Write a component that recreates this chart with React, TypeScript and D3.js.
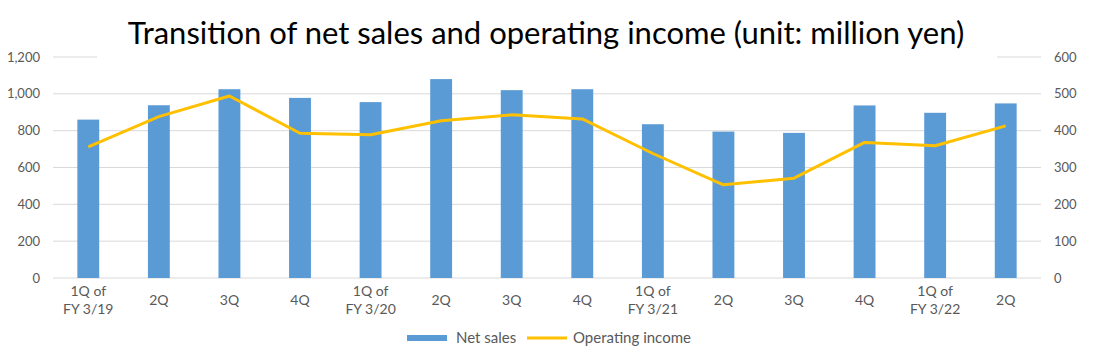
import React, { useEffect, useRef } from 'react';
import * as d3 from 'd3';

const quarters = [
  ['1Q of', 'FY 3/19'], ['2Q'], ['3Q'], ['4Q'],
  ['1Q of', 'FY 3/20'], ['2Q'], ['3Q'], ['4Q'],
  ['1Q of', 'FY 3/21'], ['2Q'], ['3Q'], ['4Q'],
  ['1Q of', 'FY 3/22'], ['2Q'],
];
const netSales = [860, 938, 1025, 978, 955, 1080, 1020, 1025, 835, 795, 788, 937, 897, 948];
const operatingIncome = [356, 438, 494, 393, 389, 427, 443, 432, 338, 253, 271, 368, 359, 413];
const leftTicks = [0, 200, 400, 600, 800, 1000, 1200];
const rightTicks = [0, 100, 200, 300, 400, 500, 600];

const App = () => {
  const ref = useRef<SVGSVGElement>(null);

  useEffect(() => {
    const svg = d3.select(ref.current);
    svg.selectAll('*').remove();

    const left = 53, right = 1041, top = 57, bottom = 278;
    const font = 'Lato, "Open Sans", sans-serif';

    const x = d3.scaleBand<number>()
      .domain(d3.range(quarters.length))
      .range([left, right])
      .paddingInner(0.69)
      .paddingOuter(0.345);
    const yL = d3.scaleLinear().domain([0, 1200]).range([bottom, top]);
    const yR = d3.scaleLinear().domain([0, 600]).range([bottom, top]);

    // gridlines
    svg.append('g')
      .selectAll('line')
      .data(leftTicks)
      .enter()
      .append('line')
      .attr('x1', left).attr('x2', right)
      .attr('y1', d => yL(d)).attr('y2', d => yL(d))
      .attr('stroke', '#d9d9d9').attr('stroke-width', 1);

    // title box hides part of the top gridline
    svg.append('rect')
      .attr('x', 97).attr('y', 5).attr('width', 900).attr('height', 56)
      .attr('fill', '#fff');
    svg.append('text')
      .attr('x', 546).attr('y', 44)
      .attr('text-anchor', 'middle')
      .attr('font-family', font)
      .attr('font-size', 31)
      .attr('fill', '#000')
      .text('Transition of net sales and operating income (unit: million yen)');

    // left axis labels
    svg.append('g')
      .selectAll('text')
      .data(leftTicks)
      .enter()
      .append('text')
      .attr('x', 40).attr('y', d => yL(d) + 4.5)
      .attr('text-anchor', 'end')
      .attr('font-family', font).attr('font-size', 13).attr('fill', '#595959')
      .text(d => d3.format(',')(d));

    // right axis labels
    svg.append('g')
      .selectAll('text')
      .data(rightTicks)
      .enter()
      .append('text')
      .attr('x', 1054).attr('y', d => yR(d) + 4.5)
      .attr('text-anchor', 'start')
      .attr('font-family', font).attr('font-size', 13).attr('fill', '#595959')
      .text(d => String(d));

    // bars
    svg.append('g')
      .selectAll('rect')
      .data(netSales)
      .enter()
      .append('rect')
      .attr('x', (d, i) => x(i)!)
      .attr('width', x.bandwidth())
      .attr('y', d => yL(d))
      .attr('height', d => bottom - yL(d))
      .attr('fill', '#5b9bd5');

    // line
    const line = d3.line<number>()
      .x((d, i) => x(i)! + x.bandwidth() / 2)
      .y(d => yR(d));
    svg.append('path')
      .datum(operatingIncome)
      .attr('d', line)
      .attr('fill', 'none')
      .attr('stroke', '#ffc000')
      .attr('stroke-width', 3)
      .attr('stroke-linejoin', 'round');

    // category labels
    const cats = svg.append('g')
      .selectAll('text')
      .data(quarters)
      .enter()
      .append('text')
      .attr('text-anchor', 'middle')
      .attr('font-family', font).attr('font-size', 14).attr('fill', '#595959')
      .attr('transform', (d, i) => `translate(${x(i)! + x.bandwidth() / 2}, ${d.length > 1 ? 296 : 305})`);
    cats.selectAll('tspan')
      .data(d => d)
      .enter()
      .append('tspan')
      .attr('x', 0)
      .attr('dy', (d, i) => (i === 0 ? 0 : 18))
      .text(d => d);

    // legend
    const lg = svg.append('g').attr('font-family', font).attr('font-size', 15).attr('fill', '#595959');
    lg.append('rect').attr('x', 407).attr('y', 335).attr('width', 40).attr('height', 6).attr('fill', '#5b9bd5');
    lg.append('text').attr('x', 456).attr('y', 343).text('Net sales');
    lg.append('line').attr('x1', 527).attr('x2', 567).attr('y1', 338).attr('y2', 338)
      .attr('stroke', '#ffc000').attr('stroke-width', 3);
    lg.append('text').attr('x', 573).attr('y', 343).text('Operating income');
  }, []);

  return (
    <svg ref={ref} width={1093} height={359}
      style={{ position: 'absolute', left: 0, top: 0, background: '#fff' }} />
  );
};

export default App;
